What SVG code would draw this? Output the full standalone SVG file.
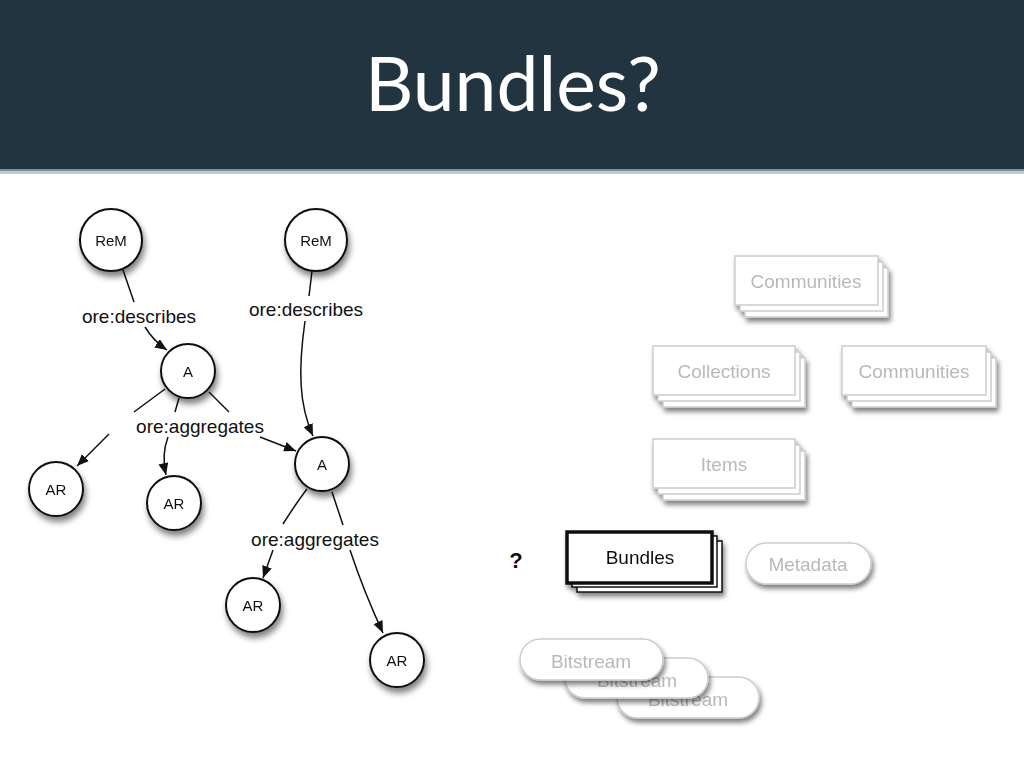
<svg xmlns="http://www.w3.org/2000/svg" width="1024" height="768" viewBox="0 0 1024 768">
<defs>
  <style>
    .lbl { font-family: "Liberation Sans", Arial, sans-serif; font-size: 19px; fill: #111; text-anchor: middle; dominant-baseline: central; }
    .nt { font-family: "Liberation Sans", Arial, sans-serif; font-size: 15px; fill: #111; text-anchor: middle; dominant-baseline: central; }
    .node { fill: #fff; stroke: #111; stroke-width: 2; }
    .edge { fill: none; stroke: #111; stroke-width: 1.5; }
    .gbox { fill: #fff; stroke: #cdcdcd; stroke-width: 1.5; }
    .gt { font-family: "Liberation Sans", Arial, sans-serif; font-size: 19px; fill: #b9b9b9; text-anchor: middle; dominant-baseline: central; }
    .bt { font-family: "Liberation Sans", Arial, sans-serif; font-size: 19px; fill: #111; text-anchor: middle; dominant-baseline: central; }
  </style>
  <filter id="sh" x="-30%" y="-30%" width="160%" height="170%">
    <feGaussianBlur in="SourceAlpha" stdDeviation="3"/>
    <feOffset dx="2" dy="5" result="b"/>
    <feComponentTransfer><feFuncA type="linear" slope="0.5"/></feComponentTransfer>
    <feMerge><feMergeNode/><feMergeNode in="SourceGraphic"/></feMerge>
  </filter>
  <filter id="shb" x="-20%" y="-30%" width="140%" height="180%">
    <feGaussianBlur in="SourceAlpha" stdDeviation="2.5"/>
    <feOffset dx="2" dy="4" result="b"/>
    <feComponentTransfer><feFuncA type="linear" slope="0.5"/></feComponentTransfer>
    <feMerge><feMergeNode/><feMergeNode in="SourceGraphic"/></feMerge>
  </filter>
  <marker id="ah" viewBox="0 0 12 10" refX="12" refY="5" markerWidth="12" markerHeight="10" markerUnits="userSpaceOnUse" orient="auto">
    <path d="M0,0 L12,5 L0,10 Z" fill="#111"/>
  </marker>
</defs>

<rect width="1024" height="768" fill="#fff"/>

<g id="header">
  <rect x="0" y="0" width="1024" height="170" fill="#22343f"/>
  <rect x="0" y="169" width="1024" height="2.5" fill="#7d91a5"/>
  <rect x="0" y="171.5" width="1024" height="2.5" fill="#c4c8cc"/>
  <text x="513" y="111" font-family="Lato, 'Open Sans', sans-serif" font-size="75" fill="#ffffff" text-anchor="middle">Bundles?</text>
</g>

<g id="connectors">
  <line class="edge" x1="123" y1="270" x2="134" y2="302"/>
  <path class="edge" d="M145,327 C151,337 158,344 167,350" marker-end="url(#ah)"/>
  <line class="edge" x1="312" y1="271" x2="309" y2="296"/>
  <path class="edge" d="M305,321 C298,370 299,405 313,436" marker-end="url(#ah)"/>
  <line class="edge" x1="165" y1="389" x2="134" y2="412"/>
  <line class="edge" x1="179" y1="398" x2="175" y2="412"/>
  <line class="edge" x1="209" y1="392" x2="229" y2="412"/>
  <line class="edge" x1="109" y1="434" x2="77" y2="466" marker-end="url(#ah)"/>
  <path class="edge" d="M168,437 C163,450 163,462 166,475" marker-end="url(#ah)"/>
  <line class="edge" x1="260" y1="437" x2="296" y2="451" marker-end="url(#ah)"/>
  <path class="edge" d="M307,489 C297,502 290,513 283,524"/>
  <line class="edge" x1="332" y1="492" x2="343" y2="525"/>
  <line class="edge" x1="273" y1="550" x2="263" y2="578" marker-end="url(#ah)"/>
  <path class="edge" d="M350,550 C360,580 370,605 383,633" marker-end="url(#ah)"/>
  <text class="lbl" x="139" y="316">ore:describes</text>
  <text class="lbl" x="306" y="309">ore:describes</text>
  <text class="lbl" x="200" y="426">ore:aggregates</text>
  <text class="lbl" x="315" y="539">ore:aggregates</text>
</g>

<g id="rem1" filter="url(#sh)"><circle class="node" cx="111" cy="240" r="31"/><text class="nt" x="111" y="240">ReM</text></g>
<g id="rem2" filter="url(#sh)"><circle class="node" cx="316" cy="240" r="31"/><text class="nt" x="316" y="240">ReM</text></g>
<g id="a1" filter="url(#sh)"><circle class="node" cx="188" cy="371" r="27"/><text class="nt" x="188" y="371">A</text></g>
<g id="a2" filter="url(#sh)"><circle class="node" cx="322" cy="464" r="27"/><text class="nt" x="322" y="464">A</text></g>
<g id="ar1" filter="url(#sh)"><circle class="node" cx="56" cy="489" r="27"/><text class="nt" x="56" y="489">AR</text></g>
<g id="ar2" filter="url(#sh)"><circle class="node" cx="174" cy="503" r="27"/><text class="nt" x="174" y="503">AR</text></g>
<g id="ar3" filter="url(#sh)"><circle class="node" cx="253" cy="605" r="27"/><text class="nt" x="253" y="605">AR</text></g>
<g id="ar4" filter="url(#sh)"><circle class="node" cx="397" cy="660" r="27"/><text class="nt" x="397" y="660">AR</text></g>

<g id="communities-top" filter="url(#shb)">
  <rect class="gbox" x="745" y="268" width="143" height="49"/>
  <rect class="gbox" x="740" y="262" width="143" height="49"/>
  <rect class="gbox" x="735" y="256" width="143" height="49"/>
  <text class="gt" x="806" y="281">Communities</text>
</g>
<g id="collections" filter="url(#shb)">
  <rect class="gbox" x="663" y="358" width="142" height="49"/>
  <rect class="gbox" x="658" y="352" width="142" height="49"/>
  <rect class="gbox" x="653" y="346" width="142" height="49"/>
  <text class="gt" x="724" y="371">Collections</text>
</g>
<g id="communities-right" filter="url(#shb)">
  <rect class="gbox" x="852" y="358" width="144" height="49"/>
  <rect class="gbox" x="847" y="352" width="144" height="49"/>
  <rect class="gbox" x="842" y="346" width="144" height="49"/>
  <text class="gt" x="914" y="371">Communities</text>
</g>
<g id="items" filter="url(#shb)">
  <rect class="gbox" x="663" y="451" width="142" height="49"/>
  <rect class="gbox" x="658" y="445" width="142" height="49"/>
  <rect class="gbox" x="653" y="439" width="142" height="49"/>
  <text class="gt" x="724" y="464">Items</text>
</g>
<g id="bundles" filter="url(#shb)">
  <rect x="577" y="541" width="145" height="51" fill="#fff" stroke="#111" stroke-width="1.5"/>
  <rect x="572" y="536" width="145" height="51" fill="#fff" stroke="#111" stroke-width="1.5"/>
  <rect x="567" y="532" width="145" height="51" fill="#fff" stroke="#111" stroke-width="3.5"/>
  <text class="bt" x="640" y="557">Bundles</text>
</g>
<g id="question">
  <text x="516" y="560" font-family="'Liberation Sans', Arial, sans-serif" font-size="22" font-weight="bold" fill="#111" text-anchor="middle" dominant-baseline="central">?</text>
</g>
<g id="metadata" filter="url(#shb)">
  <rect class="gbox" x="746" y="543" width="125" height="41" rx="20.5"/>
  <text class="gt" x="808" y="564">Metadata</text>
</g>
<g id="bitstream3" filter="url(#shb)">
  <rect class="gbox" x="617" y="677" width="142" height="41" rx="20.5"/>
  <text class="gt" x="688" y="699">Bitstream</text>
</g>
<g id="bitstream2" filter="url(#shb)">
  <rect class="gbox" x="565" y="658" width="143" height="40" rx="20"/>
  <text class="gt" x="637" y="680">Bitstream</text>
</g>
<g id="bitstream1" filter="url(#shb)">
  <rect class="gbox" x="520" y="639" width="143" height="41" rx="20.5"/>
  <text class="gt" x="591" y="661">Bitstream</text>
</g>
</svg>
